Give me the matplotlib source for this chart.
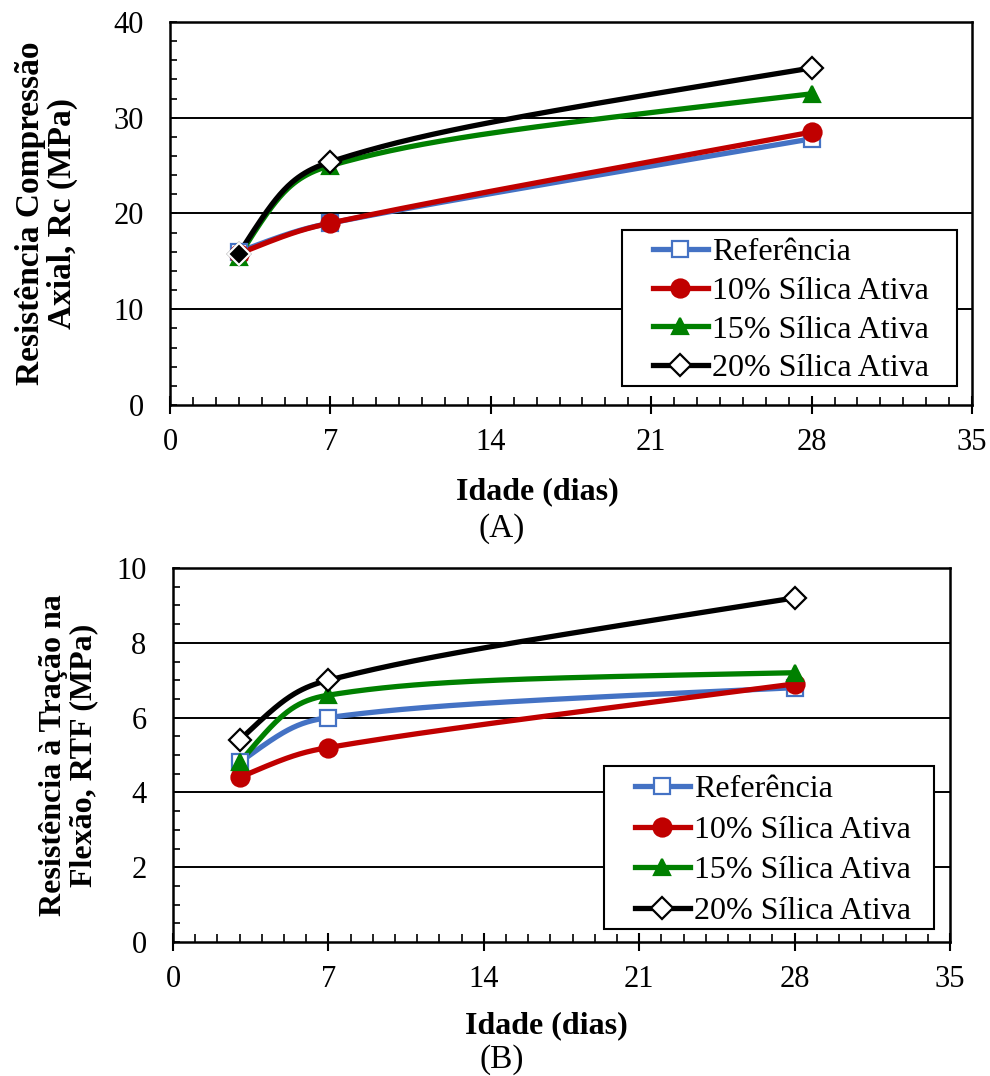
import numpy as np
import matplotlib
matplotlib.use("Agg")
import matplotlib.pyplot as plt
from matplotlib.ticker import MultipleLocator
from matplotlib.patches import Rectangle

plt.rcParams['font.family'] = ['Liberation Serif', 'DejaVu Serif']

days = [3, 7, 28]
labels = ["Referência", "10% Sílica Ativa", "15% Sílica Ativa", "20% Sílica Ativa"]
rc_ref = [16.0, 19.0, 27.8]
rc_10 = [15.8, 19.0, 28.5]
rc_15 = [15.5, 25.0, 32.5]
rc_20 = [15.8, 25.4, 35.2]
rtf_ref = [4.8, 6.0, 6.8]
rtf_10 = [4.4, 5.2, 6.9]
rtf_15 = [4.8, 6.6, 7.2]
rtf_20 = [5.4, 7.0, 9.2]

colors = ["#4472C4", "#C00000", "#008000", "#000000"]
markers = ["s", "o", "^", "D"]
mfaces = ["white", "#C00000", "#008000", "white"]
msizes = [11, 13, 12, 11]

W, H = 990, 1076


def smooth(x, y, sx, sy, n=80, endk=0.75):
    """Excel-like smoothed line computed in screen space (sx, sy = px per unit)."""
    P = np.column_stack([np.asarray(x, float) * sx, np.asarray(y, float) * sy])
    m = len(P)
    cout = [None] * m
    cin = [None] * m
    for i in range(1, m - 1):
        v = P[i + 1] - P[i - 1]
        L = np.linalg.norm(v)
        t = v / L
        lo = min(L / 6, np.linalg.norm(P[i + 1] - P[i]) / 3)
        li = min(L / 6, np.linalg.norm(P[i] - P[i - 1]) / 3)
        cout[i] = P[i] + t * lo
        cin[i] = P[i] - t * li
    cout[0] = P[0] + (cin[1] - P[0]) * endk
    cin[m - 1] = P[m - 1] + (cout[m - 2] - P[m - 1]) * endk
    tt = np.linspace(0, 1, n)[:, None]
    segs = []
    for i in range(m - 1):
        b = ((1 - tt) ** 3) * P[i] + 3 * (1 - tt) ** 2 * tt * cout[i] + 3 * (1 - tt) * tt ** 2 * cin[i + 1] + tt ** 3 * P[i + 1]
        segs.append(b)
    B = np.vstack(segs)
    return B[:, 0] / sx, B[:, 1] / sy


fig = plt.figure(figsize=(W / 100, H / 100), dpi=100)


def px_axes(l, r, t, b):
    return fig.add_axes([l / W, 1 - b / H, (r - l) / W, (b - t) / H])


ax1 = px_axes(170, 972, 22, 405)
ax2 = px_axes(173, 950, 568, 942)


def draw(ax, series, ymax, ymajor, yminor, ylabel, ylabsize, ylabx, box, hx, ty, rowgap,
         dark_first=False):
    for yv in np.arange(ymajor, ymax, ymajor):
        ax.axhline(yv, color='black', lw=1.4, zorder=1)
    bb = ax.get_position()
    sx = bb.width * W / 35.0
    sy = bb.height * H / ymax
    handles = []
    for k, (s, c, m, mf, ms, lab) in enumerate(zip(series, colors, markers, mfaces, msizes, labels)):
        xs, ys = smooth(days, s, sx, sy)
        ax.plot(xs, ys, color=c, lw=3.8, zorder=3, solid_capstyle='round')
        ax.plot(days, s, linestyle='none', marker=m, markersize=ms, markerfacecolor=mf,
                markeredgecolor=c, markeredgewidth=1.6, zorder=4, clip_on=False)
        if dark_first and k == len(series) - 1:
            ax.plot(days[:1], s[:1], linestyle='none', marker=m, markersize=ms,
                    markerfacecolor='black', markeredgecolor='white', markeredgewidth=1.6, zorder=5)
        h, = ax.plot([], [], color=c, lw=3.8, marker=m, markersize=ms, markerfacecolor=mf,
                     markeredgecolor=c, markeredgewidth=1.6, label=lab)
        handles.append(h)
    ax.set_xlim(0, 35)
    ax.set_ylim(0, ymax)
    ax.xaxis.set_major_locator(MultipleLocator(7))
    ax.xaxis.set_minor_locator(MultipleLocator(1))
    ax.yaxis.set_major_locator(MultipleLocator(ymajor))
    ax.yaxis.set_minor_locator(MultipleLocator(yminor))
    ax.tick_params(axis='x', which='major', direction='inout', length=13, width=1.5, labelsize=22, pad=10)
    ax.tick_params(axis='x', which='minor', direction='in', length=6, width=1.2)
    ax.tick_params(axis='y', which='both', direction='in', length=5, width=1.2, labelsize=22, pad=19)
    for sp in ax.spines.values():
        sp.set_linewidth(1.8)
    ax.set_ylabel(ylabel, fontsize=ylabsize, fontweight='bold', linespacing=1.05)
    ax.yaxis.set_label_coords(ylabx, 0.5)

    # legend frame
    l, t, r, b = box
    fig.patches.append(Rectangle((l / W, 1 - b / H), (r - l) / W, (b - t) / H,
                                 transform=fig.transFigure, facecolor='white',
                                 edgecolor='black', lw=1.5, zorder=5))
    leg = fig.legend(handles=handles, loc='upper left', bbox_to_anchor=(hx / W, 1 - ty / H),
                     fontsize=23, frameon=False, handlelength=1.72, handletextpad=0.12,
                     borderpad=0, borderaxespad=0, labelspacing=rowgap)
    leg.set_zorder(6)


draw(ax1, [rc_ref, rc_10, rc_15, rc_20], 40, 10, 2,
     "Resistência Compressão\nAxial, Rc (MPa)", 24, (78 - 170) / 802,
     (622, 230, 957, 386), 653, 238, 0.29, dark_first=True)
draw(ax2, [rtf_ref, rtf_10, rtf_15, rtf_20], 10, 2, 0.5,
     "Resistência à Tração na\nFlexão, RTF (MPa)", 23, (98 - 173) / 777,
     (604, 766, 934, 929), 635, 775, 0.35)

fig.text(537 / W, 1 - 492 / H, "Idade (dias)", ha='center', va='center', fontsize=23, fontweight='bold')
fig.text(502 / W, 1 - 529 / H, "(A)", ha='center', va='center', fontsize=24)
fig.text(546 / W, 1 - 1026 / H, "Idade (dias)", ha='center', va='center', fontsize=23, fontweight='bold')
fig.text(502 / W, 1 - 1060 / H, "(B)", ha='center', va='center', fontsize=24)

fig.savefig("out.png", dpi=100)
